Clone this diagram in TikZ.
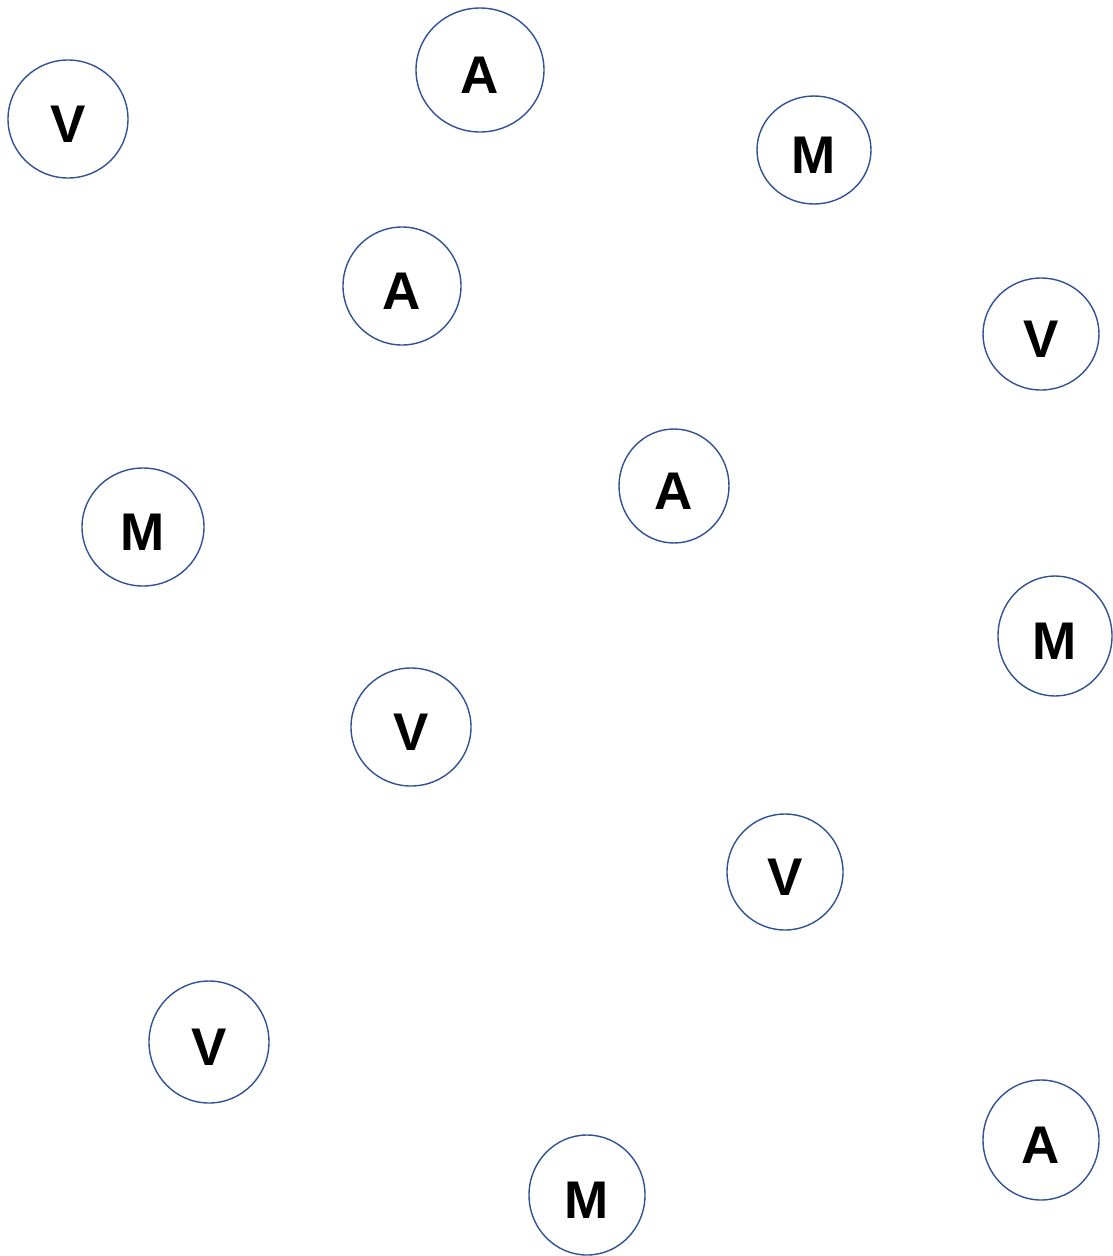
\documentclass[tikz,border=0pt]{standalone}
\usepackage{fontspec}
\setmainfont{Liberation Sans}
\usepackage{tikz}
\usetikzlibrary{shapes.geometric}
\usepackage{xcolor}
\definecolor{ringblue}{RGB}{47,82,150}

\tikzset{
    letter/.style = {ellipse, draw = ringblue, line width = 1.4pt, inner sep = 0pt,
        text height = 46pt, text depth = 0pt,
        font = \fontsize{53}{60}\selectfont\bfseries}
}

\begin{document}
\begin{tikzpicture}[x = 1pt, y = -1pt]
    \useasboundingbox (0,0) rectangle (1113,1256);

    \node[letter, minimum width = 120pt, minimum height = 118pt] (v1) at (68,119) {V};
    \node[letter, minimum width = 128pt, minimum height = 124pt] (a1) at (480,70) {A};
    \node[letter, minimum width = 114pt, minimum height = 108pt] (m1) at (814,150) {M};
    \node[letter, minimum width = 118pt, minimum height = 118pt] (a2) at (402,286) {A};
    \node[letter, minimum width = 116pt, minimum height = 112pt] (v2) at (1041,334) {V};
    \node[letter, minimum width = 110pt, minimum height = 114pt] (a3) at (674,486) {A};
    \node[letter, minimum width = 122pt, minimum height = 118pt] (m2) at (143,527) {M};
    \node[letter, minimum width = 114pt, minimum height = 120pt] (m3) at (1055,636) {M};
    \node[letter, minimum width = 120pt, minimum height = 118pt] (v3) at (411,727) {V};
    \node[letter, minimum width = 116pt, minimum height = 116pt] (v4) at (785,872) {V};
    \node[letter, minimum width = 120pt, minimum height = 122pt] (v5) at (209,1042) {V};
    \node[letter, minimum width = 116pt, minimum height = 120pt] (m4) at (587,1195) {M};
    \node[letter, minimum width = 116pt, minimum height = 120pt] (a4) at (1041,1140) {A};

\end{tikzpicture}
\end{document}
